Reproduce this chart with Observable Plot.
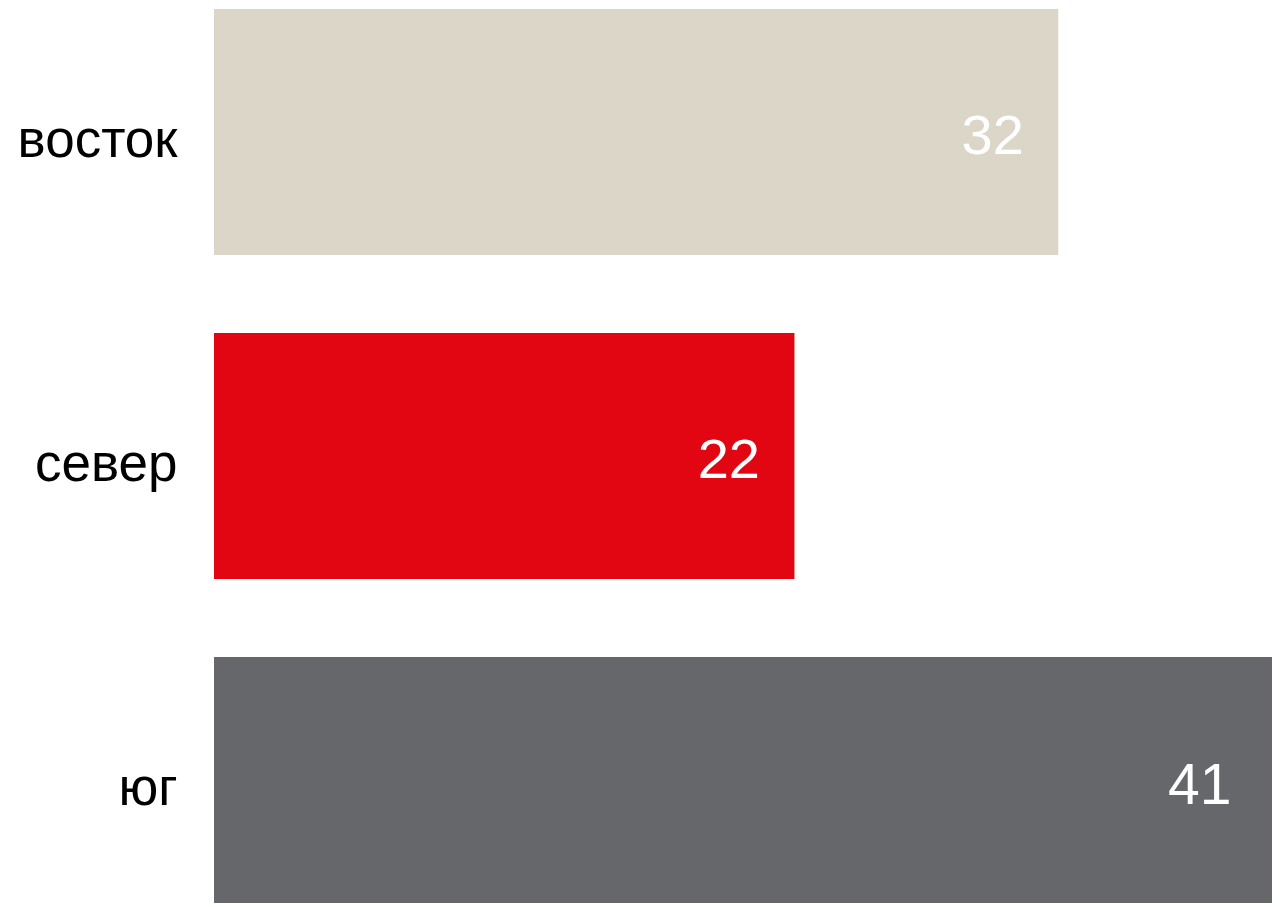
<!DOCTYPE html>
<html>
<head>
<meta charset="utf-8">
<script src="https://cdn.jsdelivr.net/npm/d3@7"></script>
<script src="https://cdn.jsdelivr.net/npm/@observablehq/plot@0.6"></script>
<style>
  html, body { margin: 0; padding: 0; background: #fff; }
  #chart svg { display: block; }
</style>
</head>
<body>
<div id="chart"></div>
<script>
const regions = ["восток", "север", "юг"];
const values = [32, 22, 41];
const colors = ["#DCD6C8", "#E20613", "#66676B"];

const data = regions.map((r, i) => ({region: r, value: values[i]}));

const chart = Plot.plot({
  width: 1281,
  height: 907,
  marginLeft: 214,
  marginRight: 9,
  marginTop: 8,
  marginBottom: 3,
  style: {fontFamily: "'Liberation Sans', Arial, sans-serif", background: "#fff"},
  x: {domain: [0, 40.1], clamp: true, axis: null},
  y: {domain: regions, paddingInner: 0.24, paddingOuter: 0, label: null},
  color: {domain: regions, range: colors},
  marks: [
    Plot.barX(data, {y: "region", x: "value", fill: "region"}),
    Plot.text(data, {
      filter: d => d.region !== "юг",
      y: "region", x: "value", text: d => String(d.value),
      textAnchor: "end", dx: -35, dy: 4, fill: "white", fontSize: 56
    }),
    Plot.text(data, {
      filter: d => d.region === "юг",
      y: "region", x: "value", text: d => String(d.value),
      textAnchor: "end", dx: -41, dy: 5, fill: "white", fontSize: 57
    }),
    Plot.axisY({tickSize: 0, tickPadding: 37, fontSize: 53, dy: 8, fill: "black", label: null})
  ]
});
document.getElementById("chart").append(chart);
</script>
</body>
</html>
